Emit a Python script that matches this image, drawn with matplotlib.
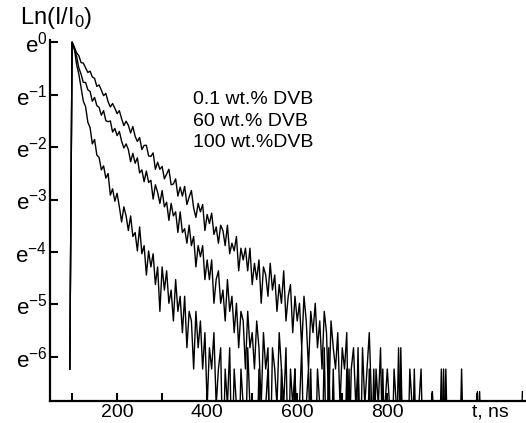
import numpy as np
import matplotlib.pyplot as plt

plt.rcParams['font.family'] = ['Liberation Sans', 'DejaVu Sans']
plt.rcParams['mathtext.fontset'] = 'custom'
plt.rcParams['mathtext.rm'] = 'Liberation Sans'
plt.rcParams['mathtext.it'] = 'Liberation Sans:italic'

# time channels, ns (5 ns bins, first bin is the rising edge)
t_ns = np.arange(95, 1101, 5)
i0 = 1016.0   # peak counts, each decay normalised to it

# photon counts, 0.1 wt.% DVB
counts_01 = [2,
    1016, 925, 828, 785, 687, 681, 624, 570, 584, 523, 509, 437, 449, 407, 366, 382, 326, 295, 315, 288, 260,
    275, 236, 207, 225, 208, 180, 203, 169, 153, 165, 131, 142, 142, 116, 115, 123, 90, 103, 90, 95,
    75, 82, 90, 67, 68, 75, 54, 64, 54, 65, 46, 53, 60, 43, 36, 47, 40, 46, 28, 38,
    32, 39, 26, 30, 22, 31, 28, 21, 31, 18, 22, 19, 25, 13, 20, 16, 20, 13, 20, 10,
    15, 11, 16, 7, 14, 12, 8, 15, 9, 12, 6, 10, 7, 13, 5, 8, 10, 4, 8, 5,
    7, 3, 8, 5, 2, 6, 4, 7, 3, 5, 2, 6, 4, 1, 5, 3, 2, 4, 1, 3,
    2, 4, 0, 2, 3, 1, 2, 0, 3, 1, 2, 4, 1, 0, 2, 1, 3, 0, 1, 2,
    1, 0, 2, 1, 0, 3, 0, 1, 0, 2, 1, 0, 0, 1, 2, 0, 1, 0, 0, 1.3,
    0, 0, 1, 0, 2, 0, 0, 0, 1, 0, 0, 0, 0, 1, 0, 0, 0, 0, 1, 0,
    1.3, 0, 0, 0, 0, 0, 0, 0, 0, 0, 0, 0, 0, 0, 0, 0, 0, 0, 0, 1.3]

# 60 wt.% DVB
counts_60 = [2,
    1016, 886, 775, 621, 552, 471, 471, 410, 397, 329, 354, 303, 293, 252, 275, 227, 223, 226, 183, 196, 171,
    185, 154, 135, 146, 131, 104, 122, 101, 112, 84, 89, 71, 87, 70, 73, 51, 67, 58, 47, 60,
    44, 48, 34, 47, 37, 40, 27, 40, 27, 29, 22, 31, 21, 25, 14, 21, 17, 21, 11, 16,
    11, 16, 7, 11, 13, 7, 9, 5, 11, 6, 8, 4, 7, 3, 6, 5, 2, 6, 3, 4,
    2, 5, 3, 1, 4, 2, 3, 0, 3, 2, 1, 4, 2, 1, 3, 0, 2, 1, 2, 0,
    1, 3, 0, 1, 2, 0, 1, 0, 2, 1, 0, 3, 0, 1, 0, 2, 0, 1, 0, 1,
    0, 2, 0, 0, 1, 0, 3, 0, 0, 1, 0, 2, 0, 0, 0, 1, 0, 2, 0, 0,
    0, 0, 1, 0, 3, 0, 0, 0, 1, 0, 0, 2, 0, 0, 0, 0, 1, 0, 0, 0,
    0, 0, 0, 2, 0, 0, 0, 0, 0, 1, 0, 0, 2, 0, 0, 0, 0, 0, 0, 1.3,
    0, 0, 0, 0, 0, 0, 0, 0, 0, 0, 0, 0, 0, 0, 0, 0, 0, 0, 0, 0]

# 100 wt.% DVB
counts_100 = [2,
    1016, 910, 665, 552, 426, 330, 297, 221, 199, 146, 159, 118, 113, 89, 96, 76, 83, 55, 62, 49, 57,
    44, 33, 44, 37, 28, 37, 25, 27, 19, 30, 18, 21, 12, 19, 14, 18, 10, 14, 6, 14,
    9, 13, 7, 9, 5, 11, 6, 8, 4, 8, 3, 6, 5, 2, 6, 3, 5, 2, 4, 1,
    3, 2, 4, 1, 2, 3, 0, 2, 1, 3, 0, 2, 1, 0, 2, 1, 0, 3, 1, 0,
    1, 0, 2, 0, 0, 1, 2, 0, 0, 1, 0, 0, 2, 0, 1, 0, 0, 0, 2, 0,
    0, 1, 0, 0, 0, 2, 0, 0, 1, 0, 0, 0, 0, 3, 0, 0, 0, 1, 0, 0,
    0, 0, 2, 0, 0, 0, 0, 1, 0, 0, 0, 0, 0, 2, 0, 0, 0, 0, 1, 0,
    0, 0, 0, 0, 0, 2, 0, 0, 0, 0, 0, 0, 1, 0, 0, 0, 0, 0, 0, 1.3,
    0, 0, 0, 0, 0, 2, 0, 0, 0, 0, 0, 0, 0, 0, 0, 0, 0, 0, 0, 0,
    0, 0, 0, 0, 0, 0, 0, 0, 0, 0, 0, 0, 0, 0, 0, 0, 0, 0, 0, 0]

labels = ["0.1 wt.% DVB", "60 wt.% DVB", "100 wt.%DVB"]
ytick_pow = [0, -1, -2, -3, -4, -5, -6]
xticks = [100, 200, 300, 400, 500, 600, 700, 800, 900, 1000]
xtick_lab = ["", "200", "", "400", "", "600", "", "800", "", ""]


fig = plt.figure(figsize=(5.26, 4.23), dpi=100)
ax = fig.add_axes([50/526, 22/423, 476/526, 361/423])

for c in (counts_01, counts_60, counts_100):
	c = np.maximum(np.array(c, dtype=float), 0.3)   # empty bins fall off the bottom
	ax.plot(t_ns, np.log(c/i0), color="black", lw=1.0)

ax.set_xlim(51, 1108)
ax.set_ylim(-6.84, 0.04)

for s in ("top", "right"):
	ax.spines[s].set_visible(False)
for s in ("left", "bottom"):
	ax.spines[s].set_linewidth(1.6)

ax.set_yticks(ytick_pow)
ax.set_yticklabels([r"$\mathregular{e^{%d}}$" % p for p in ytick_pow])
ax.set_xticks(xticks)
ax.set_xticklabels(xtick_lab)
ax.tick_params(direction="in", length=6, width=1.5)
ax.tick_params(axis="y", pad=2, labelsize=16)
ax.tick_params(axis="x", pad=2, labelsize=14)

for i, lab in enumerate(labels):
	ax.text(369, -1.10 - 0.41*i, lab, fontsize=14, va="center", ha="left")

fig.text(20/526, 1 - 18/423, r"Ln(I/I$_\mathregular{0}$)", fontsize=17, ha="left", va="center")
ax.annotate("t, ns", xy=(1030, 0), xycoords=("data", "axes fraction"),
	xytext=(0, -2), textcoords="offset points", ha="center", va="top",
	fontsize=14, annotation_clip=False)

fig.savefig("out.png", dpi=100)
